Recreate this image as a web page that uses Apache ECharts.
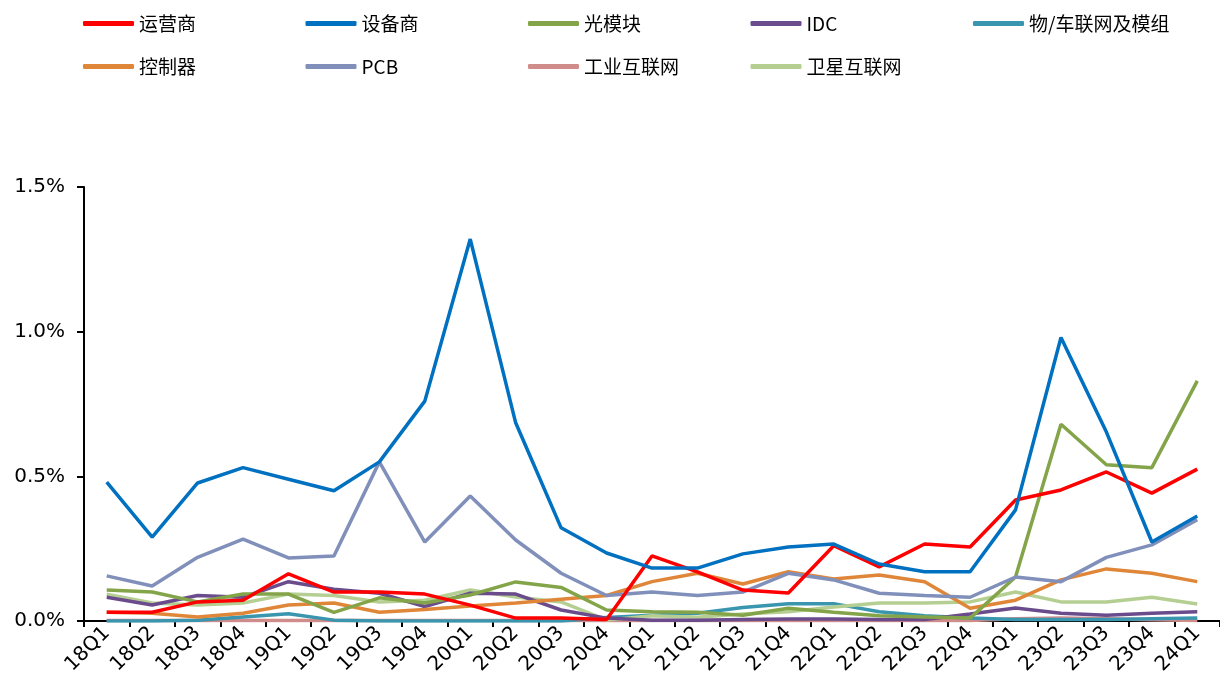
<!DOCTYPE html>
<html>
<head>
<meta charset="utf-8">
<script src="https://cdn.jsdelivr.net/npm/echarts@6/dist/echarts.min.js"></script>
<style>
  html, body { margin: 0; padding: 0; background: #fff; }
  #main { width: 1220px; height: 686px; }
</style>
</head>
<body>
<div id="main"></div>
<script>
var quarters = ['18Q1','18Q2','18Q3','18Q4','19Q1','19Q2','19Q3','19Q4',
                '20Q1','20Q2','20Q3','20Q4','21Q1','21Q2','21Q3','21Q4',
                '22Q1','22Q2','22Q3','22Q4','23Q1','23Q2','23Q3','23Q4','24Q1'];

// values in %
var yunying = [0.03,0.03,0.066,0.072,0.163,0.10,0.10,0.093,0.055,0.01,0.01,0.005,0.225,
               0.17,0.107,0.097,0.26,0.187,0.266,0.256,0.418,0.453,0.515,0.442,0.525];
var shebei = [0.48,0.29,0.477,0.53,0.49,0.45,0.55,0.76,1.32,0.685,0.322,0.235,0.183,
              0.183,0.232,0.256,0.266,0.197,0.17,0.17,0.384,0.98,0.653,0.273,0.363];
var guangmokuai = [0.107,0.10,0.066,0.093,0.093,0.03,0.08,0.062,0.09,0.135,0.116,0.038,0.032,
                   0.03,0.02,0.044,0.03,0.018,0.014,0.01,0.152,0.68,0.54,0.53,0.83];
var idc = [0.082,0.055,0.088,0.082,0.136,0.11,0.096,0.05,0.096,0.093,0.038,0.01,0.003,
           0.003,0.005,0.007,0.007,0.005,0.005,0.024,0.045,0.027,0.02,0.027,0.032];
var wulianwang = [0.0,0.0,0.003,0.014,0.025,0.003,0.0,0.0,0.0,0.0,0.0,0.012,0.02,
                  0.027,0.047,0.06,0.06,0.032,0.018,0.01,0.005,0.005,0.005,0.008,0.01];
var kongzhiqi = [0.03,0.027,0.014,0.027,0.055,0.062,0.03,0.04,0.052,0.062,0.075,0.088,0.136,
                 0.165,0.128,0.17,0.145,0.159,0.136,0.044,0.072,0.142,0.18,0.165,0.136];
var pcb = [0.156,0.121,0.22,0.283,0.218,0.225,0.55,0.273,0.432,0.28,0.165,0.088,0.10,
           0.088,0.10,0.165,0.142,0.096,0.088,0.082,0.152,0.136,0.22,0.263,0.35];
var gongye = [0.002,0.002,0.002,0.002,0.002,0.002,0.002,0.002,0.002,0.002,0.002,0.002,0.002,
              0.002,0.002,0.002,0.002,0.002,0.002,0.002,0.008,0.01,0.008,0.004,0.002];
var weixing = [0.093,0.062,0.055,0.062,0.093,0.088,0.066,0.072,0.107,0.083,0.066,0.003,0.018,
               0.013,0.024,0.032,0.048,0.062,0.062,0.066,0.10,0.066,0.066,0.082,0.059];

var yTicks = [0, 0.5, 1.0, 1.5];

var names = ['运营商','设备商','光模块','IDC','物/车联网及模组','控制器','PCB','工业互联网','卫星互联网'];
var colors = ['#FF0000','#0070C0','#84A44A','#6A4C8C','#3A96AE','#DF8639','#8190BA','#D08B8B','#B5CF93'];
var values = [yunying, shebei, guangmokuai, idc, wulianwang, kongzhiqi, pcb, gongye, weixing];

// draw order: light ones first, strong ones on top
var drawOrder = [7,4,8,3,5,2,6,0,1];

var chart = echarts.init(document.getElementById('main'));

// one legend per item so the columns line up like the original
var legends = names.map(function (n, i) {
    var col = i < 5 ? i : i - 5;
    var row = i < 5 ? 0 : 1;
    return {
        data: [n],
        icon: 'roundRect',
        itemWidth: 51,
        itemHeight: 5,
        left: 78 + col * 222.5,
        top: 9 + row * 43,
        textStyle: {
            fontFamily: '"Noto Sans CJK SC", "DejaVu Sans", sans-serif',
            fontSize: 19,
            color: '#000'
        }
    };
});

var series = drawOrder.map(function (i) {
    return {
        name: names[i],
        type: 'line',
        data: values[i],
        symbol: 'none',
        lineStyle: { width: 3.5, color: colors[i] },
        itemStyle: { color: colors[i] }
    };
});

var option = {
    animation: false,
    backgroundColor: '#fff',
    color: colors,
    legend: legends,
    grid: { left: 84, right: -10, top: 187, bottom: 65 },
    xAxis: {
        type: 'category',
        data: quarters,
        boundaryGap: true,
        axisLine: { lineStyle: { color: '#000', width: 2 } },
        axisTick: { show: true, length: 6, lineStyle: { color: '#000', width: 2 } },
        axisLabel: {
            rotate: 45,
            interval: 0,
            margin: 9,
            color: '#000',
            fontSize: 20,
            fontFamily: '"DejaVu Sans", sans-serif'
        }
    },
    yAxis: {
        type: 'value',
        min: yTicks[0],
        max: yTicks[yTicks.length - 1],
        interval: 0.5,
        axisLine: { show: true, lineStyle: { color: '#000', width: 2 } },
        axisTick: { show: true, length: 7, lineStyle: { color: '#000', width: 2 } },
        splitLine: { show: false },
        axisLabel: {
            color: '#000',
            fontSize: 20,
            margin: 19,
            fontFamily: '"DejaVu Sans", sans-serif',
            formatter: function (v) { return v.toFixed(1) + '%'; }
        }
    },
    series: series
};

chart.setOption(option);
</script>
</body>
</html>
